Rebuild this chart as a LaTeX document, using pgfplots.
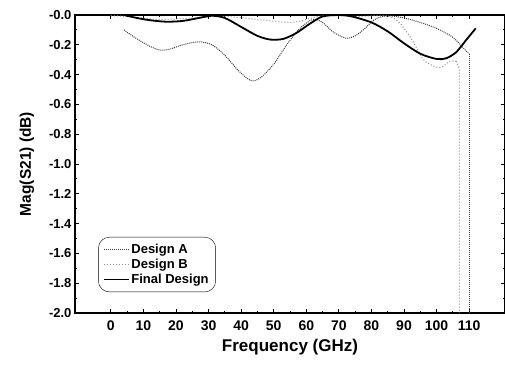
\documentclass[border=0pt]{standalone}
\usepackage{pgfplots}
\pgfplotsset{compat=1.18}
\usepackage{fontspec}
\setmainfont{Liberation Sans}
\begin{document}
\begin{tikzpicture}
\begin{axis}[
  width=430pt, height=298pt, scale only axis,
  xmin=-11, xmax=121, ymin=-2, ymax=0,
  xtick={0,10,20,30,40,50,60,70,80,90,100,110},
  xticklabels={0,10,20,30,40,50,60,70,80,90,100,110},
  ytick={-2,-1.8,-1.6,-1.4,-1.2,-1,-0.8,-0.6,-0.4,-0.2,0},
  yticklabels={-2.0,-1.8,-1.6,-1.4,-1.2,-1.0,-0.8,-0.6,-0.4,-0.2,-0.0},
  minor x tick num=1, minor y tick num=1,
  tick style={black, line width=0.8pt},
  major tick length=4pt, minor tick length=2pt,
  axis line style={line width=1.2pt},
  yticklabel style={font=\fontsize{13}{14}\selectfont\bfseries},
  xticklabel style={font=\fontsize{14}{15}\selectfont\bfseries, yshift=-4pt},
  xlabel={Frequency (GHz)}, ylabel={Mag(S21) (dB)},
  xlabel style={font=\fontsize{17}{18}\selectfont\bfseries, yshift=-2pt},
  ylabel style={font=\fontsize{15.5}{17}\selectfont\bfseries, yshift=8pt},
  legend style={at={(0.054,0.07)}, anchor=south west, rounded corners=11pt, draw=black,
    font=\fontsize{13}{13}\selectfont\bfseries, row sep=0pt, inner sep=5pt},
  legend cell align=left,
  legend image code/.code={\draw[#1] (0cm,0cm) -- (0.85cm,0cm);},
]
\addplot[black!75, densely dotted, line width=1pt, smooth, tension=0.5] coordinates {
(4,-0.10) (8,-0.16) (12,-0.21) (15,-0.235) (18,-0.23) (22,-0.20) (27,-0.18) (31,-0.20)
(35,-0.27) (39,-0.37) (43,-0.44) (46,-0.42) (50,-0.33) (54,-0.20) (58,-0.09) (62,-0.03)
(65,-0.05) (68,-0.11) (72,-0.155) (75,-0.14) (78,-0.09) (81,-0.03) (85,-0.005) (90,-0.02)
(95,-0.05) (100,-0.09) (105,-0.15) (109,-0.24) (110,-0.26)};
\addlegendentry{Design A}
\addplot[black!45, dotted, line width=1pt, smooth, tension=0.5] coordinates {
(0,-0.005) (5,-0.01) (15,-0.03) (25,-0.02) (35,-0.01) (45,-0.03) (55,-0.05) (60,-0.03)
(65,-0.005) (75,-0.01) (84,-0.005) (88,-0.04) (92,-0.15) (96,-0.30) (100,-0.35) (102,-0.345)
(104,-0.31) (106,-0.31)};
\addlegendentry{Design B}
\addplot[black, line width=1.8pt, smooth, tension=0.5] coordinates {
(4,0) (8,-0.02) (12,-0.035) (17,-0.045) (22,-0.04) (27,-0.02) (31,-0.005) (35,-0.02)
(40,-0.08) (45,-0.14) (49,-0.165) (53,-0.16) (57,-0.12) (61,-0.06) (65,-0.01) (70,0)
(74,-0.01) (80,-0.05) (85,-0.11) (90,-0.19) (95,-0.26) (100,-0.295) (103,-0.29)
(106,-0.25) (109,-0.17) (112,-0.09)};
\addlegendentry{Final Design}
\addplot[black!75, densely dotted, line width=1pt, forget plot] coordinates {(110,-0.26) (110,-2.0)};
\addplot[black!45, dotted, line width=1pt, forget plot] coordinates {(106,-0.31) (107,-0.36) (107,-2.0)};
\end{axis}
\pgfresetboundingbox
\path[use as bounding box] ([xshift=-75pt,yshift=-56pt]current axis.south west) rectangle ([yshift=15pt]current axis.north east);
\end{tikzpicture}
\end{document}
